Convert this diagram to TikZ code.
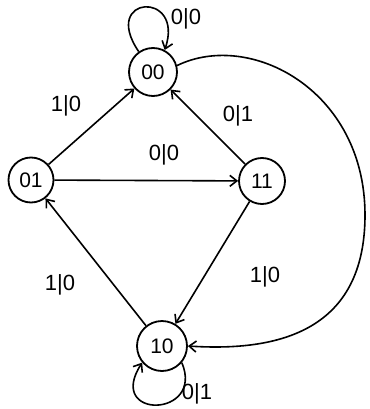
\documentclass[tikz,border=0pt]{standalone}
\usepackage{fontspec}
\setmainfont{Liberation Sans}
\usetikzlibrary{arrows.meta}
\begin{document}
\begin{tikzpicture}[x=1pt,y=-1pt,
  state/.style={circle,draw,line width=1.8pt,minimum size=48pt,inner sep=0pt,font=\fontsize{21}{23}\selectfont},
  edge/.style={line width=1.6pt,-{Straight Barb[length=7pt,width=11pt,line width=1.6pt]}},
  lab/.style={font=\fontsize{22}{24}\selectfont,inner sep=1pt}]
\useasboundingbox (0,0) rectangle (369,409);
\node[state] (s00) at (153,72) {00};
\node[state,minimum size=45pt] (s01) at (31,180) {01};
\node[state,minimum size=46pt] (s11) at (262,181) {11};
\node[state,minimum size=50pt] (s10) at (162,346) {10};
\draw[edge] (s01) -- (s00);
\draw[edge] (s11) -- (s00);
\draw[edge] (s01) -- (s11);
\draw[edge] (s11) -- (s10);
\draw[edge] (s10) -- (s01);
\draw[edge] (s00.15) .. controls (250,30) and (365,90) .. (365,215) .. controls (365,330) and (280,352) .. (s10.east);
\draw[edge] (s00.125) .. controls (100,-5) and (185,-10) .. (s00.62);
\draw[edge] (s10.-40) .. controls (205,418) and (105,420) .. (s10.-140);
\node[lab] (l1) at (186,19) {0|0};
\node[lab] (l2) at (66,106) {1|0};
\node[lab] (l3) at (238,116) {0|1};
\node[lab] (l4) at (164,155) {0|0};
\node[lab] (l5) at (60,285) {1|0};
\node[lab] (l6) at (265,277) {1|0};
\node[lab] (l7) at (197,394) {0|1};
\end{tikzpicture}
\end{document}
